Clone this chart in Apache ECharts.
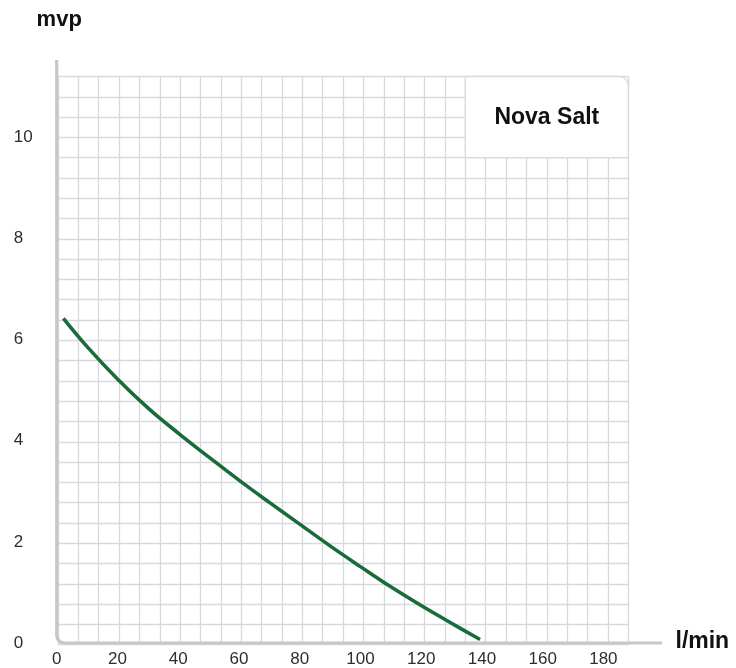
<!DOCTYPE html>
<html>
<head>
<meta charset="utf-8">
<script src="https://cdn.jsdelivr.net/npm/echarts@6/dist/echarts.min.js"></script>
<style>
html,body{margin:0;padding:0;background:#fff;}
#chart{width:736px;height:668px;}
</style>
</head>
<body>
<div id="chart"></div>
<script>
// ---- data ----
const flow = [2.2, 10, 20, 30, 40, 50, 60, 70, 80, 90, 100, 110, 120, 130, 139.4];
const head = [6.42, 5.86, 5.22, 4.65, 4.15, 3.68, 3.22, 2.78, 2.35, 1.92, 1.51, 1.11, 0.74, 0.39, 0.07];
const xTicks = [0, 20, 40, 60, 80, 100, 120, 140, 160, 180];
const yTicks = [0, 2, 4, 6, 8, 10];
const seriesName = 'Nova Salt';
const xName = 'l/min';
const yName = 'mvp';

const FONT = '"Liberation Sans", Arial, Helvetica, sans-serif';
const GRID_COLOR = '#d8d9da';
const AXIS_COLOR = '#c5c7c9';

const chart = echarts.init(document.getElementById('chart'), null, {renderer: 'canvas'});

const points = flow.map((f, i) => [f, head[i]]);

const option = {
  animation: false,
  backgroundColor: '#ffffff',
  grid: [
    {left: 56.7, top: 76.5, width: 571.6, height: 568.2},
    {left: 57.9, top: 76.5, width: 570.4, height: 568.2}
  ],
  xAxis: [
    {
      type: 'value', gridIndex: 0, min: 0, max: 188.2, interval: xTicks[1] - xTicks[0],
      axisLine: {show: false}, axisTick: {show: false}, splitLine: {show: false},
      axisLabel: {show: true, showMaxLabel: false, color: '#2e2e2e', fontSize: 17, fontFamily: FONT, margin: 8}
    },
    {
      type: 'value', gridIndex: 1, min: 0, max: 28, interval: 1,
      axisLine: {show: false}, axisTick: {show: false}, axisLabel: {show: false},
      splitLine: {show: true, lineStyle: {color: GRID_COLOR, width: 1.3}}
    }
  ],
  yAxis: [
    {
      type: 'value', gridIndex: 0, min: 0, max: 11.2, interval: yTicks[1] - yTicks[0],
      axisLine: {show: false}, axisTick: {show: false}, splitLine: {show: false},
      axisLabel: {show: true, showMaxLabel: false, color: '#2e2e2e', fontSize: 17, fontFamily: FONT, align: 'left', margin: 43}
    },
    {
      type: 'value', gridIndex: 1, min: 0, max: 28, interval: 1,
      axisLine: {show: false}, axisTick: {show: false}, axisLabel: {show: false},
      splitLine: {show: true, lineStyle: {color: GRID_COLOR, width: 1.3}}
    }
  ],
  series: [
    {
      name: seriesName,
      type: 'line',
      xAxisIndex: 0, yAxisIndex: 0,
      data: points,
      smooth: 0.4,
      showSymbol: false,
      z: 30,
      lineStyle: {color: '#1a6b3b', width: 3.6, cap: 'butt'}
    }
  ]
};
chart.setOption(option);

// decorations positioned through the axes
const origin = chart.convertToPixel({xAxisIndex: 0, yAxisIndex: 0}, [0, 0]);
const topPx = chart.convertToPixel({xAxisIndex: 0, yAxisIndex: 0}, [0, 11.2])[1] - 16.5;
const rightPx = chart.convertToPixel({xAxisIndex: 0, yAxisIndex: 0}, [188.2, 0])[0] + 33.7;
const r = 9;
const boxTL = chart.convertToPixel({xAxisIndex: 1, yAxisIndex: 1}, [20, 28]);
const boxBR = chart.convertToPixel({xAxisIndex: 1, yAxisIndex: 1}, [28, 24]);
const axisStyle = {stroke: AXIS_COLOR, lineWidth: 3.2, fill: null};

chart.setOption({
  graphic: [
    {
      type: 'rect', z: 10,
      shape: {x: boxTL[0], y: boxTL[1], width: boxBR[0] - boxTL[0], height: boxBR[1] - boxTL[1], r: [0, 9, 0, 0]},
      style: {fill: '#ffffff', stroke: GRID_COLOR, lineWidth: 1.3}
    },
    {
      type: 'text', z: 11,
      x: (boxTL[0] + boxBR[0]) / 2, y: (boxTL[1] + boxBR[1]) / 2 + 1,
      style: {text: seriesName, fill: '#111', font: 'bold 23px ' + FONT, textAlign: 'center', textVerticalAlign: 'middle'}
    },
    {
      type: 'line', z: 12,
      shape: {x1: origin[0], y1: topPx, x2: origin[0], y2: origin[1] - r},
      style: axisStyle
    },
    {
      type: 'bezierCurve', z: 12,
      shape: {x1: origin[0], y1: origin[1] - r, cpx1: origin[0], cpy1: origin[1], x2: origin[0] + r, y2: origin[1]},
      style: axisStyle
    },
    {
      type: 'line', z: 12,
      shape: {x1: origin[0] + r, y1: origin[1], x2: rightPx, y2: origin[1]},
      style: axisStyle
    },
    {
      type: 'text', z: 12,
      x: origin[0] + 2.5, y: topPx - 40,
      style: {text: yName, fill: '#111', font: 'bold 22px ' + FONT, textAlign: 'center', textVerticalAlign: 'middle'}
    },
    {
      type: 'text', z: 12,
      x: rightPx + 13.5, y: origin[1] - 1,
      style: {text: xName, fill: '#111', font: 'bold 23px ' + FONT, textAlign: 'left', textVerticalAlign: 'middle'}
    }
  ]
});
</script>
</body>
</html>
